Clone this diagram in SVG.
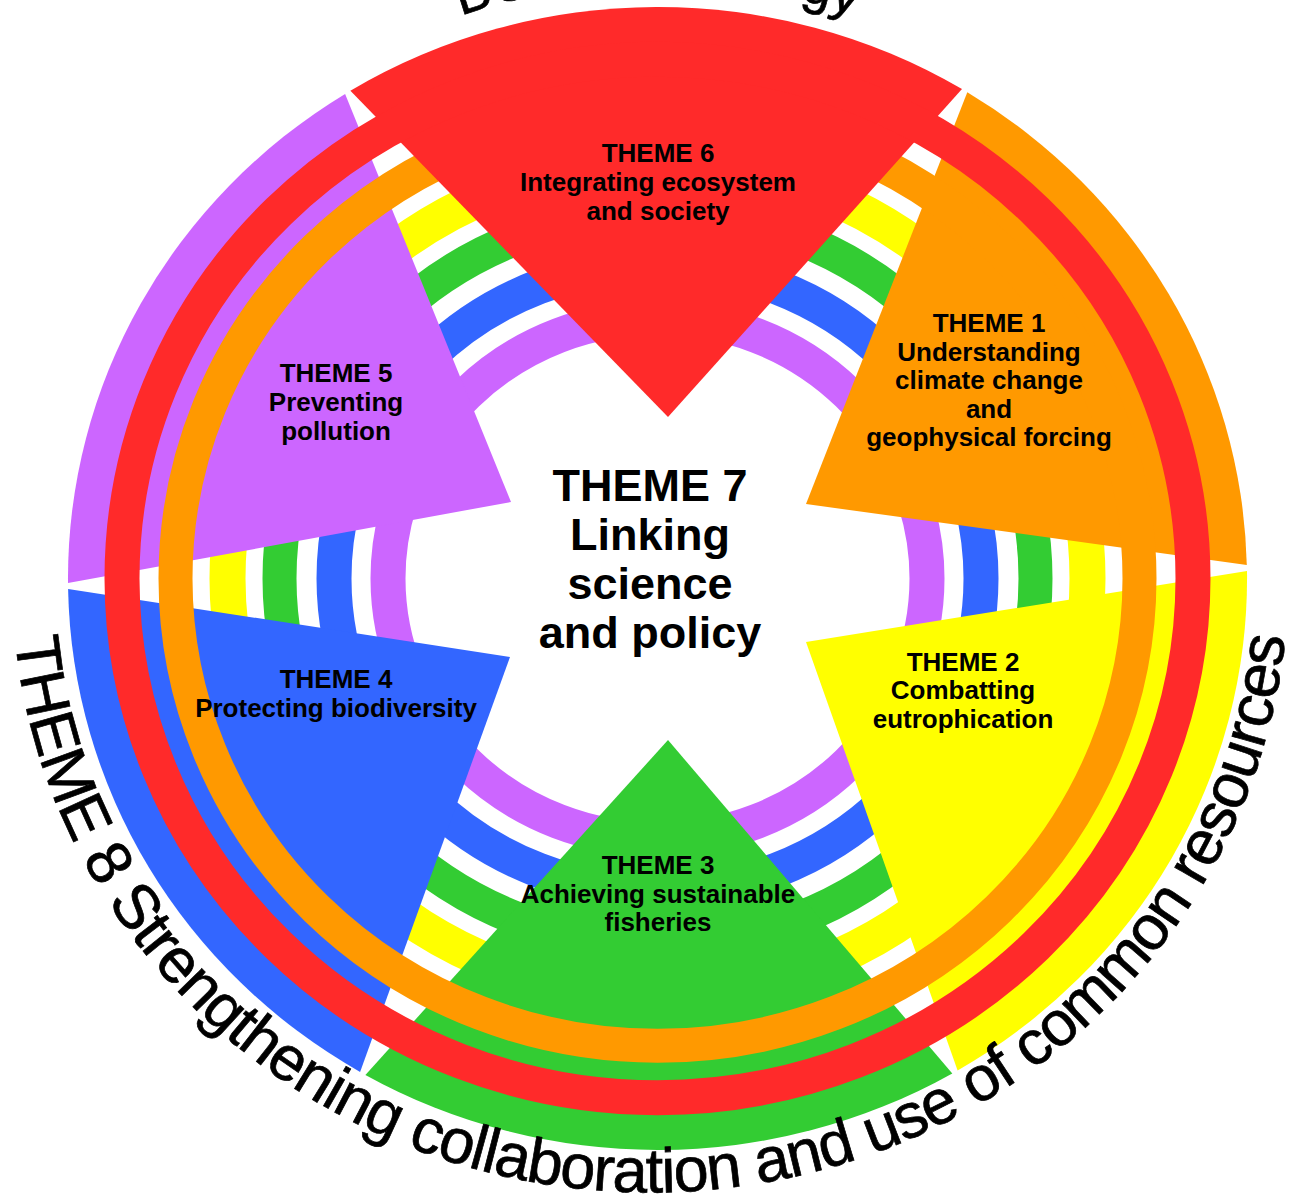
<svg xmlns="http://www.w3.org/2000/svg" width="1291" height="1204" viewBox="0 0 1291 1204">
<style>
.lbl{font-family:"Liberation Sans",Arial,sans-serif;font-weight:bold;font-size:26px;fill:#000;text-anchor:middle}
.big{font-size:45px}
.arc{font-family:"Liberation Sans",Arial,sans-serif;font-size:63px;letter-spacing:-1.2px;fill:#000;stroke:#000;stroke-width:0.7px}
.ring{fill:none}
</style>
<defs>
<path id="bottomArc" d="M 12 578.5 A 638 614 0 0 0 1288 578.5"/>
<path id="topArc" d="M 61.5 578.5 A 596 596 0 0 1 1253.5 578.5"/>
</defs>
<rect width="1291" height="1204" fill="#fff"/>
<g id="inner-rings" class="ring">
<ellipse cx="657.5" cy="578.5" rx="269.5" ry="261.3" stroke="#CC66FF" stroke-width="35"/>
<ellipse cx="657.5" cy="578.5" rx="323.5" ry="313.6" stroke="#3366FF" stroke-width="35"/>
<ellipse cx="657.5" cy="578.5" rx="378" ry="366.5" stroke="#33CC33" stroke-width="34"/>
<ellipse cx="657.5" cy="578.5" rx="430" ry="416.9" stroke="#FFFF00" stroke-width="36"/>
</g>
<g id="theme1"><path d="M806 504 L967.3 92.3 A589.5 571.5 0 0 1 1246.8 565 Z" fill="#FF9900"/></g>
<g id="theme2"><path d="M806 642 L1247 571 A589.5 571.5 0 0 1 957.6 1070.4 Z" fill="#FFFF00"/></g>
<g id="theme3"><path d="M668 740 L952.3 1073.4 A589.5 571.5 0 0 1 365.4 1074.9 Z" fill="#33CC33"/></g>
<g id="theme4"><path d="M510 657 L360.1 1071.9 A589.5 571.5 0 0 1 68.1 589 Z" fill="#3366FF"/></g>
<g id="theme5"><path d="M511 502 L68 583 A589.5 571.5 0 0 1 345.1 93.9 Z" fill="#CC66FF"/></g>
<g id="orange-ring" class="ring">
<ellipse cx="657.5" cy="578.5" rx="482" ry="467.3" stroke="#FF9900" stroke-width="34"/>
</g>
<g id="theme6"><path d="M668 417 L350.4 90.7 A589.5 571.5 0 0 1 962 89.1 Z" fill="#FF2A2A"/></g>
<g id="red-ring" class="ring">
<ellipse cx="657.5" cy="578.5" rx="535.5" ry="519.2" stroke="#FF2A2A" stroke-width="35"/>
</g>
<g id="labels" class="lbl">
<text id="label6" x="658" y="162">THEME 6<tspan x="658" y="191">Integrating ecosystem</tspan><tspan x="658" y="220">and society</tspan></text>
<text id="label1" x="989" y="332">THEME 1<tspan x="989" y="361">Understanding</tspan><tspan x="989" y="389">climate change</tspan><tspan x="989" y="418">and</tspan><tspan x="989" y="446">geophysical forcing</tspan></text>
<text id="label5" x="336" y="382">THEME 5<tspan x="336" y="411">Preventing</tspan><tspan x="336" y="440">pollution</tspan></text>
<text id="label2" x="963" y="671">THEME 2<tspan x="963" y="699">Combatting</tspan><tspan x="963" y="728">eutrophication</tspan></text>
<text id="label4" x="336" y="688">THEME 4<tspan x="336" y="717">Protecting biodiversity</tspan></text>
<text id="label3" x="658" y="874">THEME 3<tspan x="658" y="903">Achieving sustainable</tspan><tspan x="658" y="931">fisheries</tspan></text>
</g>
<g id="theme7" class="lbl big">
<text x="650" y="501">THEME 7<tspan x="650" y="550">Linking</tspan><tspan x="650" y="599">science</tspan><tspan x="650" y="648">and policy</tspan></text>
</g>
<g id="theme8">
<text class="arc"><textPath href="#bottomArc" startOffset="60">THEME 8 Strengthening collaboration and use of common resources</textPath></text>
</g>
<g id="title">
<text class="arc" style="font-size:53px;letter-spacing:0;text-anchor:middle"><textPath href="#topArc" startOffset="50%">BONUS Strategy</textPath></text>
</g>
</svg>
